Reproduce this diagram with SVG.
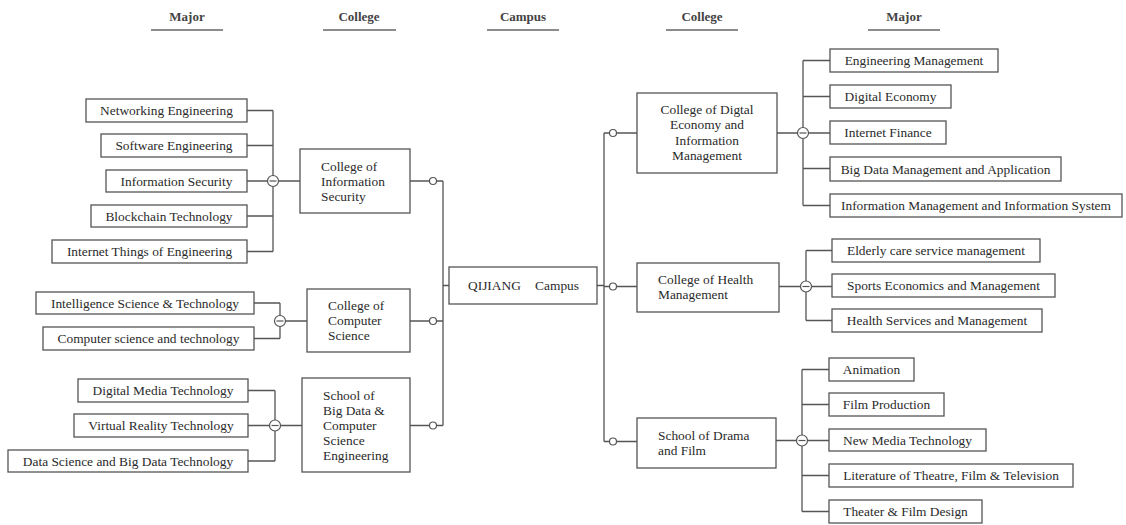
<svg xmlns="http://www.w3.org/2000/svg" width="1126" height="525" viewBox="0 0 1126 525">
<style>
.bx{fill:#fff;stroke:#555;stroke-width:1.3}
.t{font-family:"Liberation Serif","Times New Roman",serif;font-size:13.4px;fill:#2a2a2a}
.c{text-anchor:middle}
.h{font-family:"Liberation Serif","Times New Roman",serif;font-size:13px;font-weight:bold;fill:#444;text-anchor:middle}
.ul{stroke:#666;stroke-width:1.6}
.ln{fill:none;stroke:#555;stroke-width:1.3}
.dot{fill:#fff;stroke:#555;stroke-width:1.2}
</style>
<defs>
<g id="minus"><circle r="5.5" class="dot"/><line x1="-3.5" y1="0" x2="3.5" y2="0" stroke="#555" stroke-width="1.2"/></g>
</defs>
<g id="headers">
<text class="h" x="187" y="21">Major</text><line class="ul" x1="151" y1="30" x2="223" y2="30"/>
<text class="h" x="359" y="21">College</text><line class="ul" x1="323" y1="30" x2="396" y2="30"/>
<text class="h" x="523" y="21">Campus</text><line class="ul" x1="487" y1="30" x2="559" y2="30"/>
<text class="h" x="702" y="21">College</text><line class="ul" x1="666" y1="30" x2="738" y2="30"/>
<text class="h" x="904" y="21">Major</text><line class="ul" x1="868" y1="30" x2="940" y2="30"/>
</g>
<g id="connectors">
<path class="ln" d="M247 110.5H273M247 145.5H273M247 181H273M247 216H273M247 251.5H273M273 110.5V251.5M278.5 181H300"/>
<path class="ln" d="M254 303H280M254 338.5H280M280 303V338.5M285.5 321H307"/>
<path class="ln" d="M248 390.5H275M248 425.5H275M248 461H275M275 390.5V461M280.5 425.5H302"/>
<path class="ln" d="M410 181H443M410 321H443M410 425.5H443M443 181V425.5M443 285.5H449"/>
<path class="ln" d="M597 285.5H604M604 133V441.5M604 133H637M604 286.5H637M604 441.5H637"/>
<path class="ln" d="M777 133H830M803 60.5V205.5M803 60.5H830M803 96.5H830M803 168.5H830M803 205.5H830"/>
<path class="ln" d="M779 286.5H832M806 250.5V320.5M806 250.5H832M806 320.5H832"/>
<path class="ln" d="M776 440.5H829M802 369.5V511.5M802 369.5H829M802 404.5H829M802 475.5H829M802 511.5H829"/>
<use href="#minus" x="273" y="181"/>
<use href="#minus" x="280" y="321"/>
<use href="#minus" x="275" y="425.5"/>
<use href="#minus" x="803" y="133"/>
<use href="#minus" x="806" y="286.5"/>
<use href="#minus" x="802" y="440.5"/>
<circle class="dot" cx="433" cy="181" r="3.5"/>
<circle class="dot" cx="433" cy="321" r="3.5"/>
<circle class="dot" cx="433" cy="425.5" r="3.5"/>
<circle class="dot" cx="613" cy="133" r="3.5"/>
<circle class="dot" cx="613" cy="286.5" r="3.5"/>
<circle class="dot" cx="613" cy="441.5" r="3.5"/>
</g>
<g id="campus"><rect class="bx" x="449" y="267" width="148" height="37"/><text class="t" x="468" y="290">QIJIANG</text><text class="t" x="579" y="290" text-anchor="end">Campus</text></g>
<g id="col-infosec"><rect class="bx" x="300" y="149" width="110" height="64"/><text class="t" x="321"><tspan x="321" y="170.5">College of</tspan><tspan x="321" y="185.5">Information</tspan><tspan x="321" y="200.5">Security</tspan></text></g>
<g id="col-cs"><rect class="bx" x="307" y="289" width="103" height="63"/><text class="t"><tspan x="328" y="310">College of</tspan><tspan x="328" y="325">Computer</tspan><tspan x="328" y="340">Science</tspan></text></g>
<g id="col-bigdata"><rect class="bx" x="302" y="378" width="108" height="94"/><text class="t"><tspan x="323" y="400">School of</tspan><tspan x="323" y="415">Big Data &amp;</tspan><tspan x="323" y="430">Computer</tspan><tspan x="323" y="445">Science</tspan><tspan x="323" y="460">Engineering</tspan></text></g>
<g id="col-digital"><rect class="bx" x="637" y="93" width="140" height="80"/><text class="t c"><tspan x="707" y="113.5">College of Digtal</tspan><tspan x="707" y="129">Economy and</tspan><tspan x="707" y="144.5">Information</tspan><tspan x="707" y="160">Management</tspan></text></g>
<g id="col-health"><rect class="bx" x="637" y="263" width="142" height="49"/><text class="t"><tspan x="658" y="283.5">College of Health</tspan><tspan x="658" y="299">Management</tspan></text></g>
<g id="col-drama"><rect class="bx" x="637" y="418" width="139" height="50"/><text class="t"><tspan x="658" y="439.5">School of Drama</tspan><tspan x="658" y="454.5">and Film</tspan></text></g>
<g id="m-net"><rect class="bx" x="86" y="99" width="161" height="23"/><text class="t c" x="166.5" y="115">Networking Engineering</text></g>
<g id="m-soft"><rect class="bx" x="101" y="134" width="146" height="23"/><text class="t c" x="174" y="150">Software Engineering</text></g>
<g id="m-infosec"><rect class="bx" x="106" y="170" width="141" height="22"/><text class="t c" x="176.5" y="185.5">Information Security</text></g>
<g id="m-block"><rect class="bx" x="91" y="205" width="156" height="22"/><text class="t c" x="169" y="220.5">Blockchain Technology</text></g>
<g id="m-iot"><rect class="bx" x="52" y="240" width="195" height="23"/><text class="t c" x="149.5" y="256">Internet Things of Engineering</text></g>
<g id="m-intel"><rect class="bx" x="36" y="292" width="218" height="22"/><text class="t c" x="145" y="307.5">Intelligence Science &amp; Technology</text></g>
<g id="m-cst"><rect class="bx" x="43" y="327" width="211" height="23"/><text class="t c" x="148.5" y="343">Computer science and technology</text></g>
<g id="m-dmt"><rect class="bx" x="78" y="379" width="170" height="23"/><text class="t c" x="163" y="395">Digital Media Technology</text></g>
<g id="m-vr"><rect class="bx" x="74" y="414" width="174" height="23"/><text class="t c" x="161" y="430">Virtual Reality Technology</text></g>
<g id="m-ds"><rect class="bx" x="8" y="450" width="240" height="22"/><text class="t c" x="128" y="465.5">Data Science and Big Data Technology</text></g>
<g id="m-em"><rect class="bx" x="830" y="49" width="168" height="23"/><text class="t c" x="914" y="65">Engineering Management</text></g>
<g id="m-de"><rect class="bx" x="830" y="85" width="121" height="23"/><text class="t c" x="890.5" y="101">Digital Economy</text></g>
<g id="m-if"><rect class="bx" x="830" y="121" width="116" height="23"/><text class="t c" x="888" y="137">Internet Finance</text></g>
<g id="m-bdm"><rect class="bx" x="830" y="157" width="231" height="24"/><text class="t c" x="945.5" y="173.5">Big Data Management and Application</text></g>
<g id="m-imis"><rect class="bx" x="830" y="194" width="292" height="23"/><text class="t c" x="976" y="210">Information Management and Information System</text></g>
<g id="m-elder"><rect class="bx" x="832" y="239" width="208" height="23"/><text class="t c" x="936" y="255">Elderly care service management</text></g>
<g id="m-sports"><rect class="bx" x="832" y="274" width="223" height="23"/><text class="t c" x="943.5" y="290">Sports Economics and Management</text></g>
<g id="m-hsm"><rect class="bx" x="832" y="309" width="210" height="23"/><text class="t c" x="937" y="325">Health Services and Management</text></g>
<g id="m-anim"><rect class="bx" x="829" y="358" width="85" height="23"/><text class="t c" x="871.5" y="374">Animation</text></g>
<g id="m-film"><rect class="bx" x="829" y="393" width="115" height="23"/><text class="t c" x="886.5" y="409">Film Production</text></g>
<g id="m-nmt"><rect class="bx" x="829" y="429" width="157" height="22"/><text class="t c" x="907.5" y="444.5">New Media Technology</text></g>
<g id="m-lit"><rect class="bx" x="829" y="464" width="244" height="23"/><text class="t c" x="951" y="480">Literature of Theatre, Film &amp; Television</text></g>
<g id="m-tfd"><rect class="bx" x="829" y="500" width="153" height="23"/><text class="t c" x="905.5" y="516">Theater &amp; Film Design</text></g>
</svg>
